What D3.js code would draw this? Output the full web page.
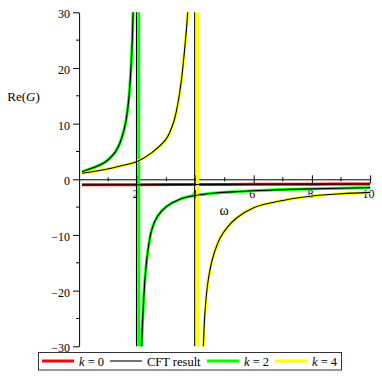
<!DOCTYPE html>
<html>
<head>
<meta charset="utf-8">
<script src="https://cdn.jsdelivr.net/npm/d3@7"></script>
<style>
  body { margin: 0; background: #fff; }
  text { font-family: "Liberation Serif", "Times New Roman", serif; fill: #000; }
</style>
</head>
<body>
<svg width="382" height="382"></svg>
<script>
// values
var omegaK0 = [0.1, 2, 4, 6, 8, 10];
var reK0    = [-1.0, -0.97, -0.94, -0.9, -0.87, -0.85];

var omegaK2Up = [0.1, 0.5, 0.9, 1.2, 1.35, 1.45, 1.55, 1.62, 1.7, 1.76, 1.82, 1.86, 1.9];
var reK2Up    = [1.35, 2.1, 3.1, 4.6, 5.9, 7.2, 9, 10.8, 14, 18, 24, 31, 44];
var omegaK2Lo = [2.12, 2.15, 2.2, 2.27, 2.36, 2.5, 2.7, 3.0, 3.5, 4.0, 4.7, 5.5, 6, 7, 8, 9, 10];
var reK2Lo    = [-40, -30, -23.5, -17.5, -13, -9, -6.6, -4.9, -3.5, -2.9, -2.45, -2.2, -2.05, -1.85, -1.72, -1.6, -1.5];

var omegaK4Up = [0.1, 0.6, 1.1, 1.6, 2.0, 2.5, 3.0, 3.25, 3.4, 3.52, 3.62, 3.7, 3.74, 3.8];
var reK4Up    = [1.1, 1.5, 2.0, 2.6, 3.2, 4.8, 7.3, 10.3, 13.8, 18, 23, 27.7, 31, 40];
var omegaK4Lo = [4.22, 4.27, 4.33, 4.44, 4.6, 4.85, 5.1, 5.4, 6.0, 7.0, 8.0, 9.0, 10.0];
var reK4Lo    = [-40, -30, -23.5, -18, -14, -10.5, -8.6, -7.0, -5.1, -3.8, -3.0, -2.6, -2.35];

// where the sampled curves jump across the pole
var lineJumps = [2.05, 4.07];
var cftJumps  = [1.97, 3.97];

var xMajor = [2, 4, 6, 8, 10];
var xMinor = [1, 3, 5, 7, 9];
var yMajor = [-30, -20, -10, 0, 10, 20, 30];
var yMinor = [-25, -15, -5, 5, 15, 25];

var legendItems = ["k0", "cft", "k2", "k4"];
var legendLabels = { k0: "0", cft: "CFT result", k2: "2", k4: "4" };
var colors = { k0: "#ff0000", cft: "#000000", k2: "#00ff00", k4: "#ffff00" };

function pts(xs, ys) { return xs.map(function(v, i) { return [v, ys[i]]; }); }

var svg = d3.select("svg");

var x = d3.scaleLinear().domain([0, 10]).range([79.1, 370.1]);
var y = d3.scaleLinear().domain([-30, 30]).range([346.3, 12.3]);

svg.append("clipPath").attr("id", "plot")
  .append("rect")
    .attr("x", x(0)).attr("y", y(30))
    .attr("width", x(10) - x(0) + 3).attr("height", y(-30) - y(30));

var smooth = d3.line()
    .x(function(d) { return x(d[0]); })
    .y(function(d) { return y(d[1]); })
    .curve(d3.curveCatmullRom.alpha(0.5));

var straight = d3.line()
    .x(function(d) { return x(d[0]); })
    .y(function(d) { return y(d[1]); });

// a series with a pole: upper branch, jump segment, lower branch
function poleSeries(xUp, yUp, jump, xLo, yLo) {
  var up = pts(xUp, yUp), lo = pts(xLo, yLo);
  return smooth(up) +
    straight([up[up.length - 1], [jump, 200], [jump + 0.004, -200], lo[0]]) +
    smooth(lo);
}

// axes
var yAxis = svg.append("g")
    .attr("transform", "translate(" + x(0) + ",0)")
    .call(d3.axisLeft(y).tickValues(yMajor).tickSize(6).tickSizeOuter(0).tickPadding(3)
      .tickFormat(function(d) { return d < 0 ? "\u2212" + Math.abs(d) : d; }));
yAxis.selectAll(".tick text").style("font-size", "12px").attr("dy", "0.45em");
yAxis.selectAll(".minor").data(yMinor).enter().append("line")
    .attr("class", "minor")
    .attr("x1", -3).attr("x2", 0)
    .attr("y1", function(d) { return y(d); }).attr("y2", function(d) { return y(d); })
    .attr("stroke", "#000");

var xAxis = svg.append("g")
    .attr("transform", "translate(0," + y(0) + ")")
    .call(d3.axisBottom(x).tickValues(xMajor).tickSize(4).tickSizeOuter(0).tickPadding(6.5));
xAxis.selectAll(".tick line").attr("y1", -4);
xAxis.selectAll(".tick text").style("font-size", "12px").attr("dx", "-2");
xAxis.selectAll(".minor").data(xMinor).enter().append("line")
    .attr("class", "minor")
    .attr("y1", -2).attr("y2", 2)
    .attr("x1", function(d) { return x(d); }).attr("x2", function(d) { return x(d); })
    .attr("stroke", "#000");
svg.selectAll(".domain").attr("stroke", "#000");

// curves
var plot = svg.append("g").attr("clip-path", "url(#plot)");

var colored = [
  ["k0", smooth(pts(omegaK0, reK0))],
  ["k2", poleSeries(omegaK2Up, reK2Up, lineJumps[0], omegaK2Lo, reK2Lo)],
  ["k4", poleSeries(omegaK4Up, reK4Up, lineJumps[1], omegaK4Lo, reK4Lo)]
];
colored.forEach(function(s) {
  plot.append("path")
      .attr("d", s[1])
      .attr("fill", "none")
      .attr("stroke", colors[s[0]])
      .attr("stroke-width", 3);
});

var cft = [
  smooth(pts(omegaK0, reK0)),
  poleSeries(omegaK2Up, reK2Up, cftJumps[0], omegaK2Lo, reK2Lo),
  poleSeries(omegaK4Up, reK4Up, cftJumps[1], omegaK4Lo, reK4Lo)
];
cft.forEach(function(d) {
  plot.append("path")
      .attr("d", d)
      .attr("fill", "none")
      .attr("stroke", colors.cft)
      .attr("stroke-width", 1.1);
});

// axis titles
var yt = svg.append("text")
    .attr("x", 23.5).attr("y", 101)
    .attr("text-anchor", "middle")
    .style("font-size", "13px");
yt.append("tspan").text("Re(");
yt.append("tspan").style("font-style", "italic").text("G");
yt.append("tspan").text(")");

svg.append("text")
    .attr("x", 224).attr("y", 215)
    .attr("text-anchor", "middle")
    .style("font-size", "14px")
    .text("\u03c9");

// legend
var legend = svg.append("g");
legend.append("rect")
    .attr("x", 38.5).attr("y", 352.5)
    .attr("width", 303).attr("height", 17.5)
    .attr("fill", "#fff")
    .attr("stroke", "#333")
    .attr("stroke-width", 1);

var lx = [42, 110, 207, 275];
legendItems.forEach(function(key, i) {
  legend.append("line")
      .attr("x1", lx[i]).attr("x2", lx[i] + 32)
      .attr("y1", 361).attr("y2", 361)
      .attr("stroke", key === "cft" ? "#444" : colors[key])
      .attr("stroke-width", key === "cft" ? 1.5 : 3);
  var t = legend.append("text")
      .attr("x", lx[i] + 37).attr("y", 365.5)
      .style("font-size", "12.5px");
  if (key === "cft") {
    t.text(legendLabels[key]);
  } else {
    t.append("tspan").style("font-style", "italic").text("k");
    t.append("tspan").text(" = " + legendLabels[key]);
  }
});
</script>
</body>
</html>
